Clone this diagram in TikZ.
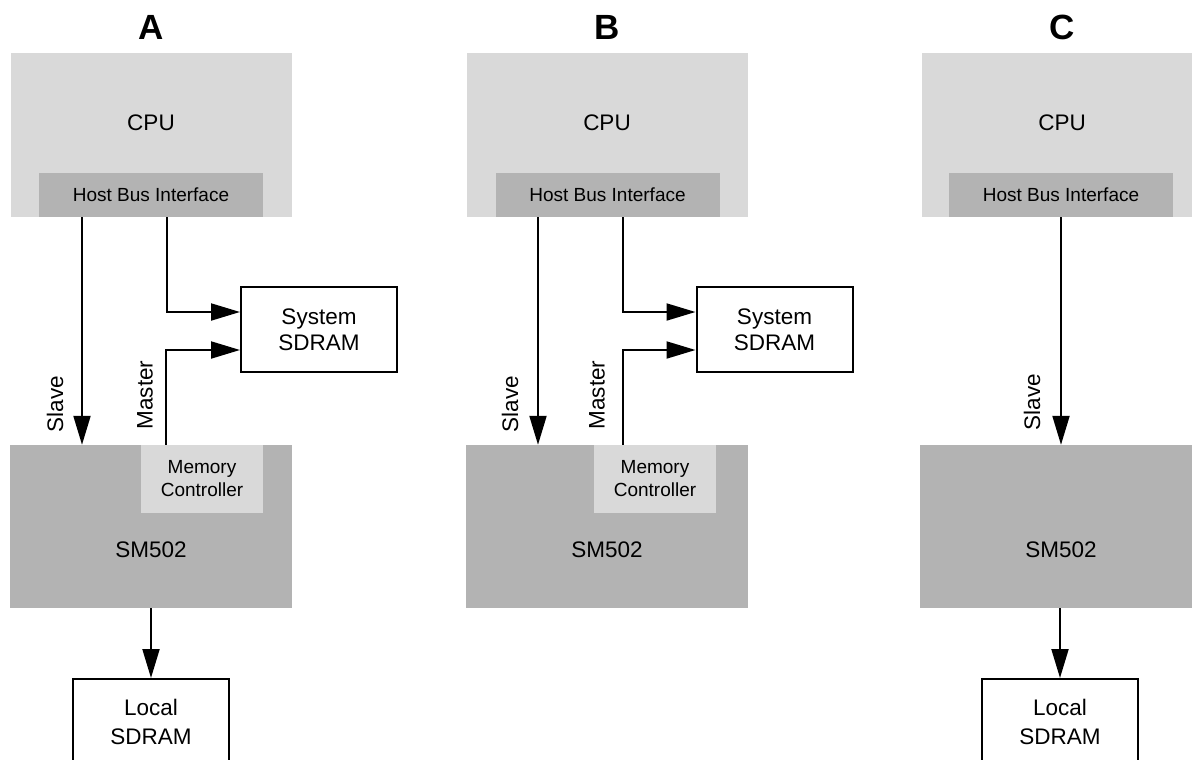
\documentclass[tikz,border=0pt]{standalone}
\usepackage{fontspec}
\setmainfont{Liberation Sans}
\usetikzlibrary{arrows.meta}
\definecolor{lgray}{HTML}{D9D9D9}
\definecolor{mgray}{HTML}{B3B3B3}
\begin{document}
\begin{tikzpicture}[x=1pt,y=-1pt,
  title/.style={font=\fontsize{35}{40}\selectfont\bfseries, inner sep=0pt},
  txt/.style={font=\fontsize{22.5}{26}\selectfont, inner sep=0pt},
  small/.style={font=\fontsize{19}{23}\selectfont, inner sep=0pt, align=center},
  cpubox/.style={fill=lgray, draw=none, minimum width=281, minimum height=164, inner sep=0pt},
  hbibox/.style={fill=mgray, draw=none, minimum width=224, minimum height=44, small},
  smbox/.style={fill=mgray, draw=none, minimum width=282, minimum height=163, inner sep=0pt},
  mcbox/.style={fill=lgray, draw=none, minimum width=122, minimum height=68, small},
  membox/.style={draw=black, line width=2pt, fill=white, minimum width=156, minimum height=85, inner sep=0pt, align=center, font=\fontsize{22.5}{26}\selectfont},
  lbl/.style={txt, rotate=90},
  conn/.style={line width=2pt, -{Triangle[length=29pt,width=17pt]}}
]
\clip (0,0) rectangle (1192,760);

% ---------------- Panel A ----------------
\node[title] (tA) at (151,27) {A};
\node[cpubox] (cpuA) at (151.5,135) {};
\node[txt] (cpuAt) at (151,123) {CPU};
\node[hbibox] (hbiA) at (151,195) {Host Bus Interface};
\node[smbox] (smA) at (151,526.5) {};
\node[txt] (smAt) at (151,550) {SM502};
\node[mcbox] (mcA) at (202,479) {Memory\\[0pt]Controller};
\node[membox] (sysA) at (319,329.5) {System\\SDRAM};
\node[membox, font=\fontsize{22.5}{29}\selectfont] (locA) at (151,721.5) {Local\\SDRAM};
\draw[conn] ([xshift=-69pt]hbiA.south) -- ([xshift=-69pt]hbiA.south |- smA.north);
\draw[conn] ([xshift=16pt]hbiA.south) |- ([yshift=17.5pt]sysA.west);
\draw[conn] ([xshift=-36pt]mcA.north) |- ([yshift=-20.5pt]sysA.west);
\draw[conn] (smA.south) -- (locA.north);
\node[lbl] (slA) at (55,404) {Slave};
\node[lbl] (maA) at (145,395) {Master};

% ---------------- Panel B ----------------
\node[title] (tB) at (607,27) {B};
\node[cpubox] (cpuB) at (607.5,135) {};
\node[txt] (cpuBt) at (607,123) {CPU};
\node[hbibox] (hbiB) at (607.5,195) {Host Bus Interface};
\node[smbox] (smB) at (607,526.5) {};
\node[txt] (smBt) at (607,550) {SM502};
\node[mcbox] (mcB) at (655,479) {Memory\\[0pt]Controller};
\node[membox] (sysB) at (774.5,329.5) {System\\SDRAM};
\draw[conn] ([xshift=-69.5pt]hbiB.south) -- ([xshift=-69.5pt]hbiB.south |- smB.north);
\draw[conn] ([xshift=15.5pt]hbiB.south) |- ([yshift=17.5pt]sysB.west);
\draw[conn] ([xshift=-32pt]mcB.north) |- ([yshift=-20.5pt]sysB.west);
\node[lbl] (slB) at (510,404) {Slave};
\node[lbl] (maB) at (597,395) {Master};

% ---------------- Panel C ----------------
\node[title] (tC) at (1062,27) {C};
\node[cpubox] (cpuC) at (1062.5,135) {};
\node[txt] (cpuCt) at (1062,123) {CPU};
\node[hbibox] (hbiC) at (1061,195) {Host Bus Interface};
\node[smbox] (smC) at (1061,526.5) {};
\node[txt] (smCt) at (1061,550) {SM502};
\node[membox, font=\fontsize{22.5}{29}\selectfont] (locC) at (1060,721.5) {Local\\SDRAM};
\draw[conn] (hbiC.south) -- (hbiC.south |- smC.north);
\draw[conn] (smC.south -| locC.north) -- (locC.north);
\node[lbl] (slC) at (1032,402) {Slave};
\end{tikzpicture}
\end{document}
